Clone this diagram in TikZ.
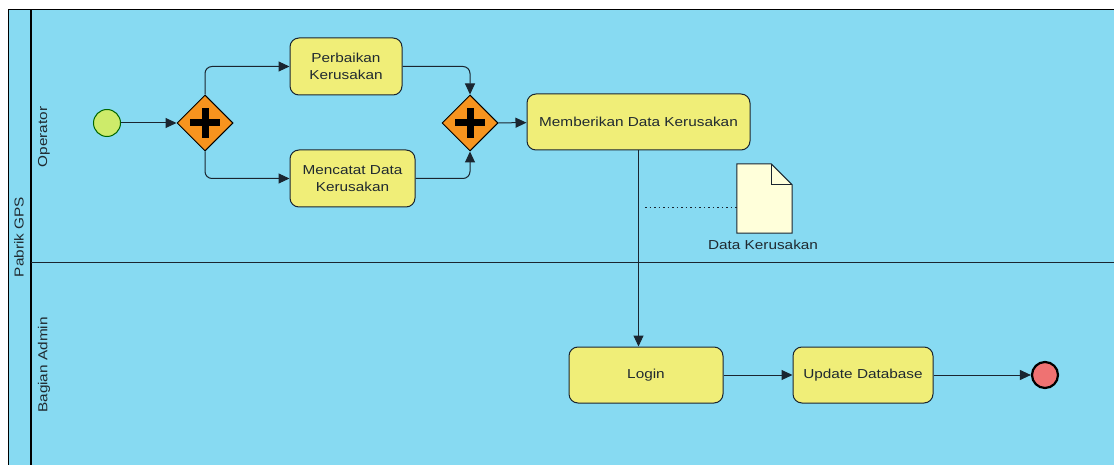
\documentclass[tikz,border=0pt]{standalone}
\usepackage{fontspec}
\setmainfont{Liberation Sans}
\newfontfamily\diafont{Liberation Sans}[FakeStretch=1.18]
\usetikzlibrary{arrows.meta,shapes.geometric,calc}
\definecolor{poolblue}{HTML}{87DAF2}
\definecolor{taskyellow}{HTML}{F0EE78}
\definecolor{gateorange}{HTML}{F7941E}
\definecolor{startgreen}{HTML}{CDEB6A}
\definecolor{endred}{HTML}{EF7272}
\definecolor{docfill}{HTML}{FFFFDA}
\definecolor{edgecol}{HTML}{1A2530}
\definecolor{textcol}{HTML}{202A30}
\tikzset{
  task/.style={draw=edgecol, line width=1pt, fill=taskyellow, rounded corners=9pt, align=center, font=\diafont\fontsize{13}{17}\selectfont, text=textcol},
  gate/.style={draw=black, line width=1pt, fill=gateorange, diamond, minimum width=56pt, minimum height=56pt, inner sep=0pt},
  flow/.style={draw=edgecol, line width=1pt, -{Triangle[length=11pt,width=10pt]}, rounded corners=7pt},
  lanelabel/.style={rotate=90, font=\diafont\fontsize{13}{15}\selectfont, text=textcol}
}
\begin{document}
\begin{tikzpicture}[x=1pt,y=-1pt]
\useasboundingbox (0,0) rectangle (1114,465);
% pool
\fill[white] (0,0) rectangle (1114,465);
\fill[poolblue] (8,10) rectangle (1116,467);
\draw[black, line width=1pt] (8,467) -- (8,10) -- (1116,10);
\draw[black, line width=1.6pt] (31,10) -- (31,467);
\draw[edgecol, line width=1pt] (31,263) -- (1116,263);
\node[lanelabel] (pool) at (19,237) {Pabrik GPS};
\node[lanelabel] (lane1) at (44,137) {Operator};
\node[lanelabel] (lane2) at (44,365) {Bagian Admin};
% nodes
\node[circle, draw=black!60!green, line width=1pt, fill=startgreen, minimum size=27pt, inner sep=0pt] (start) at (107,123) {};
\node[gate] (g1) at (205,123) {};
\node[gate] (g2) at (470,123) {};
\foreach \g in {g1,g2}{
  \fill[black] ($(\g)+(-15,-3.5)$) rectangle ($(\g)+(15,3.5)$);
  \fill[black] ($(\g)+(-3.5,-15)$) rectangle ($(\g)+(3.5,15)$);
}
\node[task, minimum width=112pt, minimum height=57pt] (t1) at (346,66.5) {Perbaikan\\Kerusakan};
\node[task, minimum width=125pt, minimum height=57pt] (t2) at (352.5,178.5) {Mencatat Data\\Kerusakan};
\node[task, minimum width=223pt, minimum height=56pt] (t3) at (638.5,122) {Memberikan Data Kerusakan};
\node[task, minimum width=154pt, minimum height=56pt] (t4) at (646,375) {Login};
\node[task, minimum width=140pt, minimum height=56pt] (t5) at (863,375) {Update Database};
\node[circle, draw=black, line width=2.2pt, fill=endred, minimum size=26pt, inner sep=0pt] (end) at (1045,375) {};
% data object
\node[minimum width=55pt, minimum height=69pt, inner sep=0pt] (doc) at (764.5,198.5) {};
\draw[edgecol, line width=1pt, fill=docfill] (doc.north west) -- ($(doc.north east)+(-21,0)$) -- ($(doc.north east)+(0,21)$) -- (doc.south east) -- (doc.south west) -- cycle;
\draw[edgecol, line width=1pt] ($(doc.north east)+(-21,0)$) -- ($(doc.north east)+(-21,21)$) -- ($(doc.north east)+(0,21)$);
\node[font=\diafont\fontsize{13}{15}\selectfont, text=textcol] (doclabel) at (763,245) {Data Kerusakan};
% flows
\draw[flow] (start) -- (g1);
\draw[flow] (g1.north) |- (t1.west);
\draw[flow] (g1.south) |- (t2.west);
\draw[flow] (t1.east) -| (g2.north);
\draw[flow] (t2.east) -| (g2.south);
\draw[flow] (g2) -- (t3);
\draw[flow] (t3.south) -- (t4.north -| t3.south);
\draw[flow] (t4) -- (t5);
\draw[flow] (t5) -- (end);
\coordinate (assoc) at (645,207);
\draw[edgecol, line width=0.9pt, dash pattern=on 1.5pt off 3pt] (assoc) -- (doc.west |- assoc);
\end{tikzpicture}
\end{document}
